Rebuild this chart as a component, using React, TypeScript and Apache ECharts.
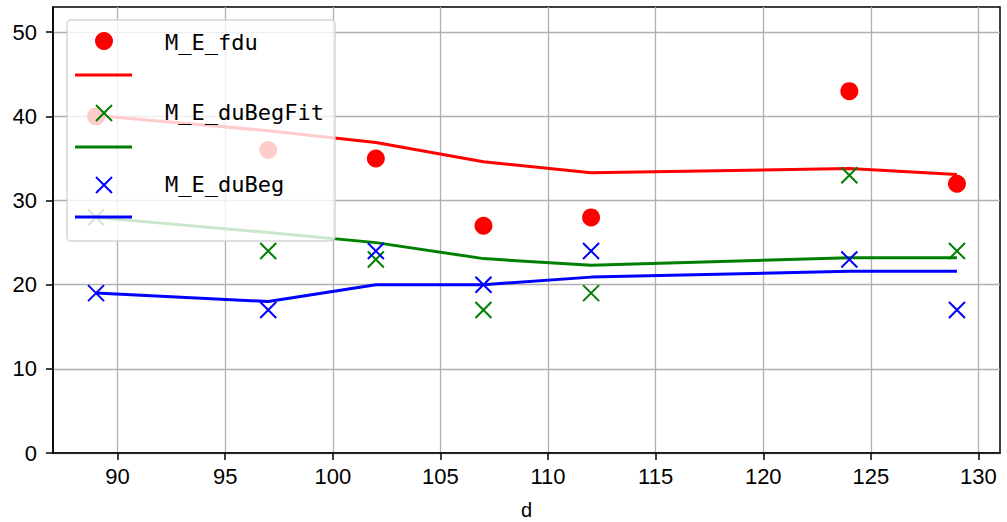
import React, { useEffect, useRef } from "react";
import * as echarts from "echarts";

const dValues = [89, 97, 102, 107, 112, 124, 129];
const fduPoints = [40, 36, 35, 27, 28, 43, 32];
const fduFit = [40.1, 38.3, 36.9, 34.6, 33.3, 33.8, 33.1];
const duBegFitPoints = [28, 24, 23, 17, 19, 33, 24];
const duBegFitLine = [28, 26.2, 25, 23.1, 22.3, 23.2, 23.2];
const duBegPoints = [19, 17, 24, 20, 24, 23, 17];
const duBegLine = [19, 18, 20, 20, 20.9, 21.6, 21.6];
const xTicks = [90, 95, 100, 105, 110, 115, 120, 125, 130];
const yTicks = [0, 10, 20, 30, 40, 50];
const legendLabels = ["M_E_fdu", "M_E_duBegFit", "M_E_duBeg"];

const XPATH = "path://M0,0L10,10M10,0L0,10";

const pairs = (xs: number[], ys: number[]) => xs.map((x, i) => [x, ys[i]]);

export default function App() {
  const ref = useRef<HTMLDivElement>(null);
  useEffect(() => {
    if (!ref.current) return;
    const chart = echarts.init(ref.current, undefined, { renderer: "svg" });
    const tickFont = { fontFamily: "Liberation Sans, Arial, sans-serif", fontSize: 22, color: "#000" };
    const xMarker = (color: string) => ({
      type: "scatter",
      symbol: XPATH,
      symbolSize: 16,
      itemStyle: { color: "none", borderColor: color, borderWidth: 2, opacity: 1 },
      z: 3,
    });
    const lineSeries = (color: string) => ({
      type: "line",
      symbol: "none",
      lineStyle: { color, width: 3 },
      z: 2,
    });
    const Z = 100;
    const lx = (cx: number, cy: number, color: string) => [
      { type: "line", z: Z + 1, shape: { x1: cx - 8, y1: cy - 8, x2: cx + 8, y2: cy + 8 }, style: { stroke: color, lineWidth: 2 } },
      { type: "line", z: Z + 1, shape: { x1: cx + 8, y1: cy - 8, x2: cx - 8, y2: cy + 8 }, style: { stroke: color, lineWidth: 2 } },
    ];
    const legendText = (y: number, t: string) => ({
      type: "text",
      z: Z + 1,
      x: 165,
      y,
      style: { text: t, fontFamily: "DejaVu Sans Mono, monospace", fontSize: 22, fill: "#000", verticalAlign: "middle" },
    });
    const legendLine = (y: number, color: string) => ({
      type: "line",
      z: Z + 1,
      shape: { x1: 75, y1: y, x2: 132, y2: y },
      style: { stroke: color, lineWidth: 3 },
    });
    chart.setOption({
      animation: false,
      grid: {
        left: 53, right: 7, top: 7, bottom: 69,
        outerBoundsMode: "none",
        containLabel: false,
        show: true, borderColor: "#000", borderWidth: 1.5, backgroundColor: "transparent",
      },
      xAxis: {
        type: "value",
        min: 87,
        max: 131,
        name: "d",
        nameLocation: "middle",
        nameGap: 47,
        nameTextStyle: { ...tickFont, fontSize: 20 },
        axisLine: { lineStyle: { color: "#000", width: 1.5 } },
        axisTick: { show: true, length: 7, customValues: xTicks, lineStyle: { color: "#000", width: 1.5 } },
        axisLabel: { ...tickFont, margin: 12, customValues: xTicks },
        splitLine: { show: true, lineStyle: { color: "#b0b0b0", width: 1.3 } },
      },
      yAxis: {
        type: "value",
        min: 0,
        max: 53,
        axisLine: { show: true, lineStyle: { color: "#000", width: 1.5 } },
        axisTick: { show: true, length: 7, customValues: yTicks, lineStyle: { color: "#000", width: 1.5 } },
        axisLabel: { ...tickFont, margin: 16, customValues: yTicks },
        splitLine: { show: true, lineStyle: { color: "#b0b0b0", width: 1.3 } },
      },
      series: [
        { type: "scatter", symbol: "circle", symbolSize: 18, itemStyle: { color: "#ff0000", opacity: 1 }, data: pairs(dValues, fduPoints), z: 3 },
        { ...lineSeries("#ff0000"), data: pairs(dValues, fduFit) },
        { ...xMarker("#008000"), data: pairs(dValues, duBegFitPoints) },
        { ...lineSeries("#008000"), data: pairs(dValues, duBegFitLine) },
        { ...xMarker("#0000ff"), data: pairs(dValues, duBegPoints) },
        { ...lineSeries("#0000ff"), data: pairs(dValues, duBegLine) },
      ],
      graphic: [
        { type: "rect", z: Z, shape: { x: 67, y: 20, width: 268, height: 221, r: 4 }, style: { fill: "rgba(255,255,255,0.8)", stroke: "rgba(204,204,204,0.8)", lineWidth: 1.5 } },
        { type: "circle", z: Z + 1, shape: { cx: 104, cy: 41, r: 9 }, style: { fill: "#ff0000" } },
        legendLine(75, "#ff0000"),
        ...lx(104, 113, "#008000"),
        legendLine(147, "#008000"),
        ...lx(104, 185, "#0000ff"),
        legendLine(217, "#0000ff"),
        legendText(42, legendLabels[0]),
        legendText(112, legendLabels[1]),
        legendText(184, legendLabels[2]),
      ],
    });
    return () => chart.dispose();
  }, []);
  return <div ref={ref} style={{ width: 1007, height: 522, position: "absolute", left: 0, top: 0 }} />;
}
